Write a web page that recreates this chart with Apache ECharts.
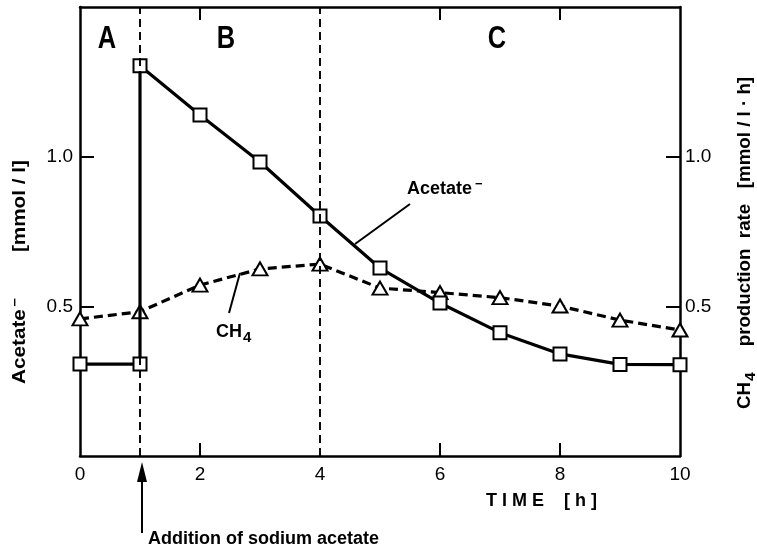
<!DOCTYPE html>
<html><head><meta charset="utf-8">
<script src="https://cdn.jsdelivr.net/npm/echarts@6/dist/echarts.min.js"></script>
<style>html,body{margin:0;padding:0;background:#fff}#c{width:757px;height:554px}</style>
</head><body><div id="c"></div>
<script>
// ---- data ----
const timeAcetate = [0, 1, 1, 2, 3, 4, 5, 6, 7, 8, 9, 10];
const acetate     = [0.307, 0.307, 1.304, 1.139, 0.982, 0.802, 0.628, 0.511, 0.412, 0.341, 0.306, 0.305];
const timeCH4     = [0, 1, 2, 3, 4, 5, 6, 7, 8, 9, 10];
const ch4Rate     = [0.458, 0.482, 0.571, 0.625, 0.641, 0.561, 0.546, 0.529, 0.501, 0.454, 0.421];
const phaseBoundaries = [1, 4];
const xTickLabels = [0, 2, 4, 6, 8, 10];
const xInnerTicks = [2, 6, 8];
const yTickLabels = [0.5, 1.0];
const phaseNames = ['A', 'B', 'C'];

const FONT = "'Liberation Sans', Arial, sans-serif";
const chart = echarts.init(document.getElementById('c'), null, {renderer: 'canvas'});

const axisLine = {show: true, onZero: false, lineStyle: {color: '#000', width: 2.5}};
const tickStyle = {color: '#000', width: 2};
const xBase = {type: 'value', min: 0, max: 10, interval: 2, splitLine: {show: false}, axisLine: axisLine};
const yBase = {type: 'value', min: 0, max: 1.5, interval: 0.5, splitLine: {show: false}, axisLine: axisLine};

const option = {
  backgroundColor: '#fff',
  animation: false,
  grid: {left: 80, right: 77, top: 7, bottom: 98},
  xAxis: [
    Object.assign({}, xBase, {
      position: 'bottom',
      axisTick: {show: true, inside: true, length: 13, customValues: xInnerTicks, lineStyle: tickStyle},
      axisLabel: {show: true, customValues: xTickLabels, color: '#000', fontFamily: FONT, fontSize: 19, margin: 9,
                  formatter: v => String(v)}
    }),
    Object.assign({}, xBase, {
      position: 'top',
      axisTick: {show: true, inside: true, length: 13, customValues: xInnerTicks, lineStyle: tickStyle},
      axisLabel: {show: false}
    })
  ],
  yAxis: [
    Object.assign({}, yBase, {
      position: 'left',
      axisTick: {show: true, inside: true, length: 14, customValues: yTickLabels, lineStyle: tickStyle},
      axisLabel: {show: true, customValues: yTickLabels, color: '#000', fontFamily: FONT, fontSize: 19, margin: 7,
                  formatter: v => v.toFixed(1)}
    }),
    Object.assign({}, yBase, {
      position: 'right',
      axisTick: {show: true, inside: true, length: 14, customValues: yTickLabels, lineStyle: tickStyle},
      axisLabel: {show: true, customValues: yTickLabels, color: '#000', fontFamily: FONT, fontSize: 19, margin: 5,
                  formatter: v => v.toFixed(1)}
    })
  ],
  series: [
    {
      name: 'boundaries', type: 'line', data: [], xAxisIndex: 0, yAxisIndex: 0,
      markLine: {
        silent: true, symbol: ['none', 'none'], label: {show: false},
        lineStyle: {color: '#000', width: 1.9, type: [8, 5]},
        data: phaseBoundaries.map(x => ({xAxis: x}))
      }
    },
    {
      name: 'CH4', type: 'line', xAxisIndex: 0, yAxisIndex: 1,
      data: timeCH4.map((t, i) => [t, ch4Rate[i]]),
      lineStyle: {color: '#000', width: 3.2, type: [9, 5]},
      symbol: 'triangle', symbolSize: [15, 13], showAllSymbol: true,
      itemStyle: {color: '#fff', borderColor: '#000', borderWidth: 2},
      z: 3
    },
    {
      name: 'Acetate', type: 'line', xAxisIndex: 0, yAxisIndex: 0,
      data: timeAcetate.map((t, i) => [t, acetate[i]]),
      lineStyle: {color: '#000', width: 3.2},
      symbol: 'rect', symbolSize: 13, showAllSymbol: true,
      itemStyle: {color: '#fff', borderColor: '#000', borderWidth: 2},
      z: 4
    }
  ],
  graphic: [
    // phase letters
    {type: 'text', x: 107, y: 39, scaleX: 0.82, style: {text: phaseNames[0], font: "bold 31px " + FONT, fill: '#000', align: 'center', verticalAlign: 'middle'}},
    {type: 'text', x: 226, y: 39, scaleX: 0.82, style: {text: phaseNames[1], font: "bold 31px " + FONT, fill: '#000', align: 'center', verticalAlign: 'middle'}},
    {type: 'text', x: 497, y: 39, scaleX: 0.82, style: {text: phaseNames[2], font: "bold 31px " + FONT, fill: '#000', align: 'center', verticalAlign: 'middle'}},
    // Acetate annotation
    {type: 'text', left: 407, top: 178, style: {
      text: 'Acetate{s|−}', font: "bold 18px " + FONT, fill: '#000',
      rich: {s: {fontSize: 13, fontWeight: 'bold', fontFamily: FONT, padding: [0, 0, 10, 3]}}}},
    {type: 'line', shape: {x1: 410, y1: 204, x2: 355, y2: 244}, style: {stroke: '#000', lineWidth: 2}},
    // CH4 annotation
    {type: 'text', left: 216, top: 323, style: {
      text: 'CH{sub|4}', font: "bold 18px " + FONT, fill: '#000',
      rich: {sub: {fontSize: 15, fontWeight: 'bold', fontFamily: FONT, padding: [11, 0, 0, 1]}}}},
    {type: 'line', shape: {x1: 229, y1: 313, x2: 240, y2: 273}, style: {stroke: '#000', lineWidth: 2}},
    // left axis title
    {type: 'text', x: 20, y: 272, rotation: Math.PI / 2, scaleX: 1.15, style: {
      text: 'Acetate{s|−}        [mmol / l]', font: "bold 18px " + FONT, fill: '#000', align: 'center', verticalAlign: 'middle',
      rich: {s: {fontSize: 13, fontWeight: 'bold', padding: [0, 0, 10, 2]}}}},
    // right axis title
    {type: 'text', x: 745, y: 243, rotation: Math.PI / 2, scaleX: 1.04, style: {
      text: 'CH{sub|4}     production  rate   [mmol / l · h]', font: "bold 18px " + FONT, fill: '#000', align: 'center', verticalAlign: 'middle',
      rich: {sub: {fontSize: 15, fontWeight: 'bold', padding: [11, 0, 0, 1]}}}},
    // x axis title
    {type: 'text', left: 486, top: 492, style: {text: 'T I M E    [ h ]', font: "bold 18px " + FONT, fill: '#000'}},
    // addition arrow + label
    {type: 'line', shape: {x1: 142, y1: 533, x2: 142, y2: 478}, style: {stroke: '#000', lineWidth: 2}},
    {type: 'polygon', shape: {points: [[137, 482], [147, 482], [142, 462]]}, style: {fill: '#000'}},
    {type: 'text', left: 148, top: 530, style: {text: 'Addition of sodium acetate', font: "bold 18px " + FONT, fill: '#000'}}
  ]
};
chart.setOption(option);
</script>
</body></html>
